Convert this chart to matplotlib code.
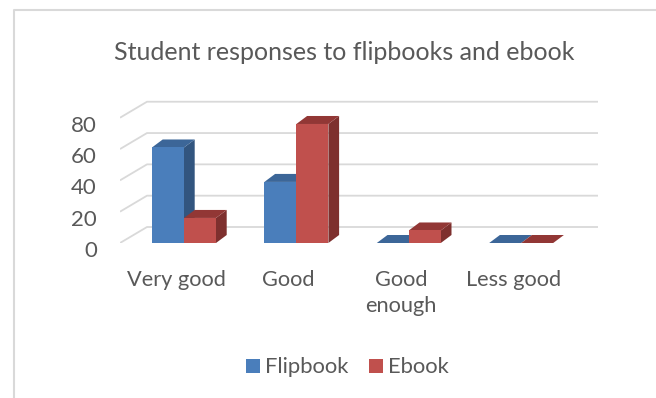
import matplotlib
matplotlib.use("Agg")
import matplotlib.pyplot as plt
from matplotlib.patches import Polygon, Rectangle
from matplotlib.transforms import offset_copy

plt.rcParams["font.family"] = ["Lato", "DejaVu Sans"]

# Data
categories = ["Very good", "Good", "Good\nenough", "Less good"]
flipbook = [61, 39, 0, 0]
ebook = [16, 76, 8, 0]
y_ticks = [0, 20, 40, 60, 80]

text_color = "#595959"
grid_color = "#d9d9d9"

# face colours: front, side, top
blue = ("#4a7ebb", "#32557f", "#3c6698")
red = ("#c0504d", "#7e302e", "#923735")

W, H = 656, 398
fig = plt.figure(figsize=(W / 100, H / 100), dpi=100)

# axes placed in pixel terms so the fake 3D geometry lines up
ax_left, ax_right, ax_top, ax_bottom = 120, 600, 95, 243
ax = fig.add_axes([ax_left / W, (H - ax_bottom) / H,
                   (ax_right - ax_left) / W, (ax_bottom - ax_top) / H])
px_x = 112.4          # pixels per category
px_y = 1.566          # pixels per value unit
x0 = (ax_left - 184) / px_x
ax.set_xlim(x0, (ax_right - 184) / px_x)
ax.set_ylim(0, (ax_bottom - ax_top) / px_y)
ax.axis("off")

# depth of floor / wall and of the bars, in data units
wall_dx, wall_dy = 27 / px_x, 16 / px_y
bar_dx, bar_dy = 10.7 / px_x, 8 / px_y
bar_w = 32 / px_x
grid_right = (598 - 184) / px_x

# back wall gridlines with their left-wall diagonals
for v in y_ticks:
    ax.plot([x0, x0 + wall_dx, grid_right], [v, v + wall_dy, v + wall_dy],
            color=grid_color, linewidth=1.3, zorder=1, solid_capstyle="butt")

label_tr = offset_copy(ax.transData, fig=fig, x=0, y=-8, units="dots")
for v in y_ticks:
    ax.text((97 - 184) / px_x, v, str(v), transform=label_tr, ha="right",
            va="center", fontsize=16, color=text_color, clip_on=False)


def draw_bar(x_left, height, colors, z):
    front, side, top = colors
    x_r = x_left + bar_w
    ax.add_patch(Polygon([(x_r, 0), (x_r + bar_dx, bar_dy),
                          (x_r + bar_dx, height + bar_dy), (x_r, height)],
                         closed=True, facecolor=side, edgecolor="none", zorder=z))
    ax.add_patch(Polygon([(x_left, height), (x_r, height),
                          (x_r + bar_dx, height + bar_dy),
                          (x_left + bar_dx, height + bar_dy)],
                         closed=True, facecolor=top, edgecolor="none", zorder=z))
    if height > 0:
        ax.add_patch(Rectangle((x_left, 0), bar_w, height, facecolor=front,
                               edgecolor="none", zorder=z))


for i in range(len(categories)):
    draw_bar(i - bar_w, flipbook[i], blue, 3 + 2 * i)
    draw_bar(i, ebook[i], red, 4 + 2 * i)

cat_tr = offset_copy(ax.transData, fig=fig, x=-8, y=-27, units="dots")
for i, name in enumerate(categories):
    ax.text(i, 0, name, transform=cat_tr, ha="center", va="top",
            fontsize=15.7, color=text_color, linespacing=1.4, clip_on=False)

# title
fig.text(344 / W, (H - 60) / H, "Student responses to flipbooks and ebook",
         ha="center", va="baseline", fontsize=18, color=text_color)

# legend
leg_items = [("Flipbook", blue[0], 246), ("Ebook", red[0], 369)]
for name, col, lx in leg_items:
    fig.patches.append(Rectangle((lx / W, (H - 373) / H), 14 / W, 14 / H,
                                 transform=fig.transFigure, facecolor=col,
                                 edgecolor="none"))
    fig.text((lx + 19) / W, (H - 373) / H, name, ha="left", va="baseline",
             fontsize=15.8, color=text_color)

# chart border (only top and left edges fall inside the picture)
fig.add_artist(plt.Line2D([13.5 / W, 13.5 / W, 1], [0, (H - 10) / H, (H - 10) / H],
                          transform=fig.transFigure, color=grid_color, linewidth=1.5))

fig.savefig("out.png", dpi=100, facecolor="white")
